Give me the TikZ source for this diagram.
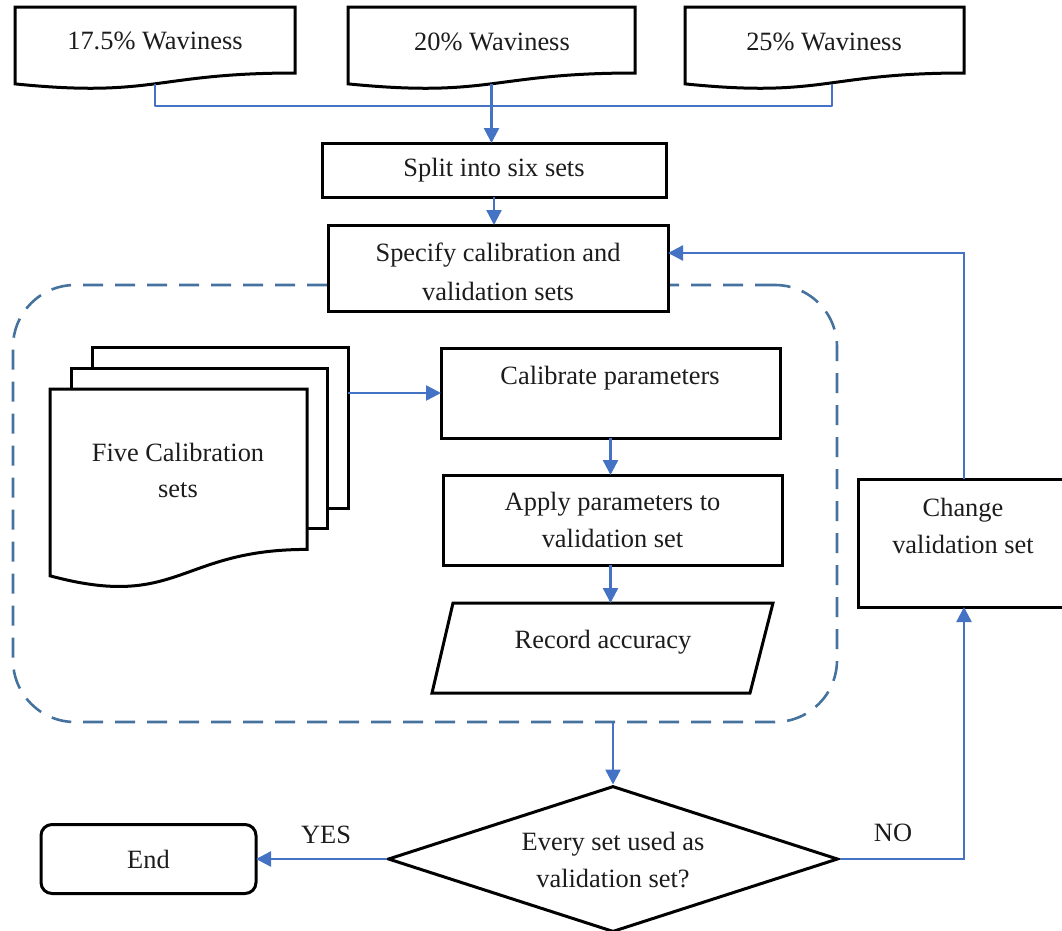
\documentclass[tikz,border=0pt]{standalone}
\usepackage{fontspec}
\setmainfont{Liberation Serif}
\usetikzlibrary{arrows.meta,shapes.geometric,calc}
\pgfdeclarelayer{background}
\pgfsetlayers{background,main}
\definecolor{conn}{RGB}{68,114,196}
\definecolor{dashc}{RGB}{70,114,158}
\definecolor{txtc}{RGB}{28,28,28}
\newcommand\docpath[1]{%
  \draw[boxline,fill=white] (#1.north west) -- (#1.north east)
    -- ($(#1.north east)!0.802!(#1.south east)$)
    .. controls ($(#1.north)!0.802!(#1.south)$) and ($(#1.north)!1.1075!(#1.south)$)
    .. ($(#1.north west)!0.934!(#1.south west)$) -- cycle;}
\begin{document}
\begin{tikzpicture}[x=1pt,y=-1pt,
  every node/.style={font=\fontsize{26.4}{37}\selectfont, text=txtc},
  boxline/.style={draw=black, line width=3pt},
  shapebox/.style={inner sep=0pt, outer sep=0pt, minimum width=#1},
  procbox/.style={boxline, fill=white, inner sep=0pt, outer sep=0pt},
  txt/.style={inner sep=0pt, align=center},
  conn/.style={draw=conn, line width=2.4pt, -{Triangle[length=15pt,width=15pt]}},
  connplain/.style={draw=conn, line width=2.4pt},
  grpbox/.style={draw=dashc, line width=2.6pt, dash pattern=on 20pt off 12pt,
    rounded corners=62pt, inner sep=0pt}
]
\path[use as bounding box, clip] (0,0) rectangle (1062,930);

% dashed group
\begin{pgfonlayer}{background}
  \node[grpbox, minimum width=824pt, minimum height=437pt] (grp) at (425,503.5) {};
\end{pgfonlayer}

% top documents
\node[shapebox=280pt, minimum height=82.3pt] (d1) at (155,48.15) {};
\node[shapebox=287pt, minimum height=82.3pt] (d2) at (491.5,48.15) {};
\node[shapebox=279pt, minimum height=82.3pt] (d3) at (824.5,48.15) {};
\docpath{d1}\docpath{d2}\docpath{d3}
\node[txt] (d1t) at (155,41) {17.5\% Waviness};
\node[txt] (d2t) at (492,42) {20\% Waviness};
\node[txt] (d3t) at (824,42) {25\% Waviness};

% process boxes
\node[procbox, minimum width=344pt, minimum height=54pt] (split) at (494,170) {Split into six sets};
\node[procbox, minimum width=340pt, minimum height=86pt] (spec) at (498,268) {};
\node[txt, font=\fontsize{26.4}{39}\selectfont] (spect) at (498,272) {Specify calibration and\\validation sets};

% multi-document
\node[procbox, minimum width=256pt, minimum height=161pt] (bk) at (220,427.5) {};
\node[procbox, minimum width=256pt, minimum height=160pt] (md) at (199,448) {};
\node[shapebox=257pt, minimum height=200pt] (fr) at (178.5,489) {};
\docpath{fr}
\node[txt, font=\fontsize{26.4}{36}\selectfont] (frt) at (178,470) {Five Calibration\\sets};

\node[procbox, minimum width=339pt, minimum height=90pt] (cal) at (610.5,393) {};
\node[txt] (calt) at (610,378) {Calibrate parameters};
\node[procbox, minimum width=339pt, minimum height=90pt, align=center] (app) at (612.5,520) {Apply parameters to\\validation set};

% record accuracy (parallelogram)
\node[shapebox=341pt, minimum height=90pt] (rec) at (602.5,648) {};
\draw[boxline, fill=white] ([xshift=21pt]rec.north west) -- (rec.north east)
  -- ([xshift=-23pt]rec.south east) -- (rec.south west) -- cycle;
\node[txt] (rect) at (603,642) {Record accuracy};

% decision
\node[diamond, boxline, fill=white, inner sep=0pt, aspect=3.08, minimum width=450pt, minimum height=146pt] (dia) at (613,859) {};
\node[txt] (diat) at (613,860) {Every set used as\\validation set?};

\node[procbox, rounded corners=11pt, minimum width=215pt, minimum height=69pt] (end) at (148.5,859) {End};

\node[procbox, minimum width=212pt, minimum height=128pt] (chg) at (964,543) {};
\node[txt] (chgt) at (963,526) {Change\\validation set};

% labels
\node[txt] (yes) at (326,835) {YES};
\node[txt] (no) at (893,833) {NO};

% connectors
\coordinate (d1b) at ($(d1.north)!0.933!(d1.south)$);
\coordinate (d2b) at ($(d2.north)!0.933!(d2.south)$);
\coordinate (d3b) at ([xshift=7.5pt]$(d3.north)!0.933!(d3.south)$);
\coordinate (bus) at (491.5,106);
\draw[connplain, line join=round] (d1b) |- (bus) -| (d3b);
\draw[conn] (d2b) -- (d2b |- split.north);
\draw[conn] (split.south) -- (split.south |- spec.north);
\draw[conn] (cal.west -| bk.east) -- (cal.west);
\draw[conn] (cal.south) -- (cal.south |- app.north);
\draw[conn] (app.south -| cal.south) -- (rec.north -| cal.south);
\draw[conn] (dia.north |- grp.south) -- (dia.north);
\draw[conn] (dia.west) -- (end.east);
\draw[conn] (dia.east) -| (chg.south);
\draw[conn] (chg.north) |- ([yshift=15pt]spec.east);
\end{tikzpicture}
\end{document}
